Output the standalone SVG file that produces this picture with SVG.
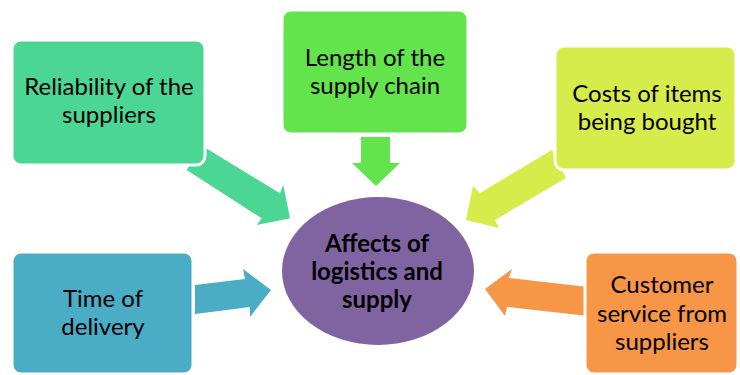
<svg xmlns="http://www.w3.org/2000/svg" width="740" height="375" viewBox="0 0 740 375">
  <style>
    .box { stroke: #ffffff; stroke-width: 3; }
    .lbl { font-family: Lato, "Liberation Sans", sans-serif; font-size: 24px; fill: #000000; text-anchor: middle; }
    .hub { font-family: Lato, "Liberation Sans", sans-serif; font-size: 24px; font-weight: bold; fill: #000000; text-anchor: middle; }
  </style>
  <rect width="740" height="375" fill="#ffffff"/>

  <!-- block arrows pointing at the centre ellipse -->
  <g id="connectors">
    <polygon fill="#4bd694" points="201.6,145.6 280,193.3 283.3,185 290,218.3 256.7,225 261.7,218.3 186.7,170"/>
    <polygon fill="#63e34c" points="361,137 390,137 390,163 400,163 376,186 352,163 361,163"/>
    <polygon fill="#d5ec4a" points="552,150 480,193 473,186 466,220 499,228 495,220 566,178"/>
    <polygon fill="#4bacc6" points="195,285 245,279 243,269 271,290 250,317 250,307 195,314"/>
    <polygon fill="#f79646" points="588,287 509,278 512,269 485,289 505,316 507,307 588,316"/>
  </g>

  <g id="reliability">
    <rect class="box" x="12" y="40" width="193" height="125" rx="9" fill="#4bd694"/>
    <text class="lbl" x="109" y="95">Reliability of the</text>
    <text class="lbl" x="109" y="123">suppliers</text>
  </g>

  <g id="length">
    <rect class="box" x="282" y="10" width="186" height="124" rx="9" fill="#63e34c"/>
    <text class="lbl" x="375" y="66">Length of the</text>
    <text class="lbl" x="375" y="94">supply chain</text>
  </g>

  <g id="costs">
    <rect class="box" x="555" y="46" width="181" height="124" rx="9" fill="#d5ec4a"/>
    <text class="lbl" x="647" y="102">Costs of items</text>
    <text class="lbl" x="647" y="130">being bought</text>
  </g>

  <g id="delivery">
    <rect class="box" x="12" y="252" width="181" height="122" rx="9" fill="#4bacc6"/>
    <text class="lbl" x="103" y="307">Time of</text>
    <text class="lbl" x="103" y="335">delivery</text>
  </g>

  <g id="service">
    <rect class="box" x="585" y="252" width="153" height="122" rx="9" fill="#f79646"/>
    <text class="lbl" x="662" y="293">Customer</text>
    <text class="lbl" x="662" y="322">service from</text>
    <text class="lbl" x="662" y="350">suppliers</text>
  </g>

  <g id="affects">
    <ellipse cx="378" cy="271" rx="96" ry="74" fill="#8064a2"/>
    <text class="hub" x="377" y="252">Affects of</text>
    <text class="hub" x="377" y="280">logistics and</text>
    <text class="hub" x="377" y="308">supply</text>
  </g>
</svg>
